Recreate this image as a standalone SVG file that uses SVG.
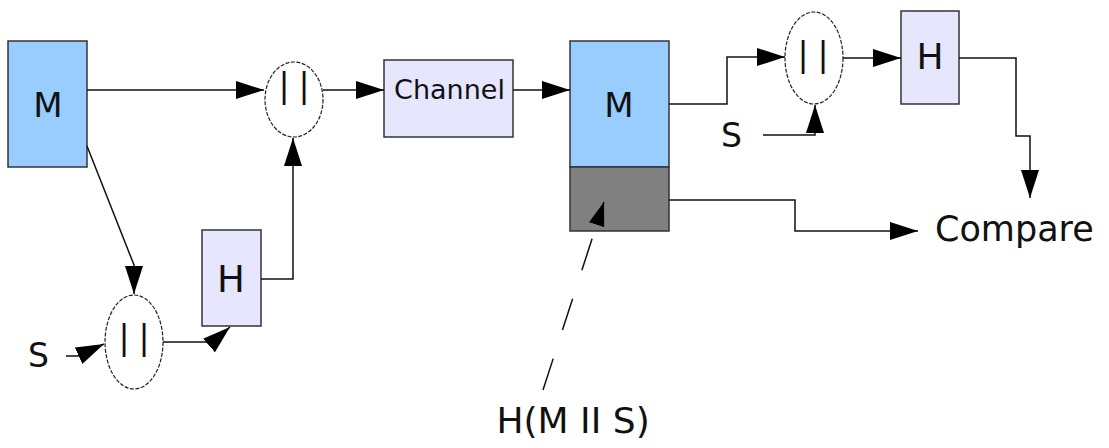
<svg xmlns="http://www.w3.org/2000/svg" width="1109" height="448" viewBox="0 0 1109 448">
<style>
.box{stroke:#333;stroke-width:1.5}
.blue{fill:#99ccff}
.lav{fill:#e6e6ff}
.gray{fill:#808080}
.ell{fill:#fff;stroke:#222;stroke-width:1.2;stroke-dasharray:4 1.5}
.t{font-family:"DejaVu Sans",sans-serif;fill:#111}
.bars{font-family:"DejaVu Sans",sans-serif;font-size:33px;fill:#111;letter-spacing:9px}
.c{fill:none;stroke:#111;stroke-width:1.5;marker-end:url(#ah)}
.d{fill:none;stroke:#111;stroke-width:1.5;stroke-dasharray:33 30;marker-end:url(#ahs)}
</style>
<defs>
<marker id="ah" markerUnits="userSpaceOnUse" viewBox="0 0 28 18" refX="28" refY="9" markerWidth="28" markerHeight="18" orient="auto">
<path d="M0,0 L28,9 L0,18 Z" fill="#000"/>
</marker>
<marker id="ahs" markerUnits="userSpaceOnUse" viewBox="0 0 24 16" refX="24" refY="8" markerWidth="24" markerHeight="16" orient="auto">
<path d="M0,0 L24,8 L0,16 Z" fill="#000"/>
</marker>
</defs>
<rect width="1109" height="448" fill="#fff"/>
<g id="M1">
<rect class="box blue" x="8" y="41" width="79" height="126"/>
<text class="t" x="48" y="117" font-size="34" text-anchor="middle">M</text>
</g>
<g id="concat1">
<ellipse class="ell" cx="294" cy="99.5" rx="29" ry="37.5"/>
<text class="bars" x="278.4" y="97">||</text>
</g>
<g id="concat2">
<ellipse class="ell" cx="134" cy="342" rx="29" ry="47"/>
<text class="bars" x="118.4" y="349">||</text>
</g>
<g id="H1">
<rect class="box lav" x="202" y="230" width="59" height="96"/>
<text class="t" x="231" y="292" font-size="37" text-anchor="middle">H</text>
</g>
<g id="S1">
<text class="t" x="28" y="367" font-size="33">S</text>
</g>
<g id="channel">
<rect class="box lav" x="384" y="60" width="129" height="77"/>
<text class="t" x="449.5" y="99" font-size="27" text-anchor="middle">Channel</text>
</g>
<g id="M2">
<rect class="box blue" x="570" y="41" width="99" height="126"/>
<rect class="box gray" x="570" y="167" width="99" height="64"/>
<text class="t" x="619" y="117" font-size="34" text-anchor="middle">M</text>
</g>
<g id="concat3">
<ellipse class="ell" cx="814" cy="58" rx="29" ry="46"/>
<text class="bars" x="797.4" y="66">||</text>
</g>
<g id="S2">
<text class="t" x="721" y="147" font-size="33">S</text>
</g>
<g id="H2">
<rect class="box lav" x="901" y="11" width="58" height="93"/>
<text class="t" x="930" y="69" font-size="36" text-anchor="middle">H</text>
</g>
<g id="compare">
<text class="t" x="935" y="241" font-size="35">Compare</text>
</g>
<g id="label-hash">
<text class="t" x="496.5" y="433" font-size="36">H(M II S)</text>
</g>
<g id="connectors">
<polyline class="c" points="87,90 264,90"/>
<polyline class="c" points="87,146 134,265 134,294"/>
<polyline class="c" points="66,356 78,356 104,344"/>
<polyline class="c" points="163,342 213,342 230,327"/>
<polyline class="c" points="261,279 293,279 293,138"/>
<polyline class="c" points="323,90 384,90"/>
<polyline class="c" points="513,90 570,90"/>
<polyline class="c" points="669,104 727,104 727,57 785,57"/>
<polyline class="c" points="763,135 815,135 815,105"/>
<polyline class="c" points="843,58 901,58"/>
<polyline class="c" points="959,58 1016,58 1016,136 1030,136 1030,198"/>
<polyline class="c" points="669,200 795,200 795,231 918,231"/>
<polyline class="d" points="543,390 604,202"/>
</g>
</svg>
